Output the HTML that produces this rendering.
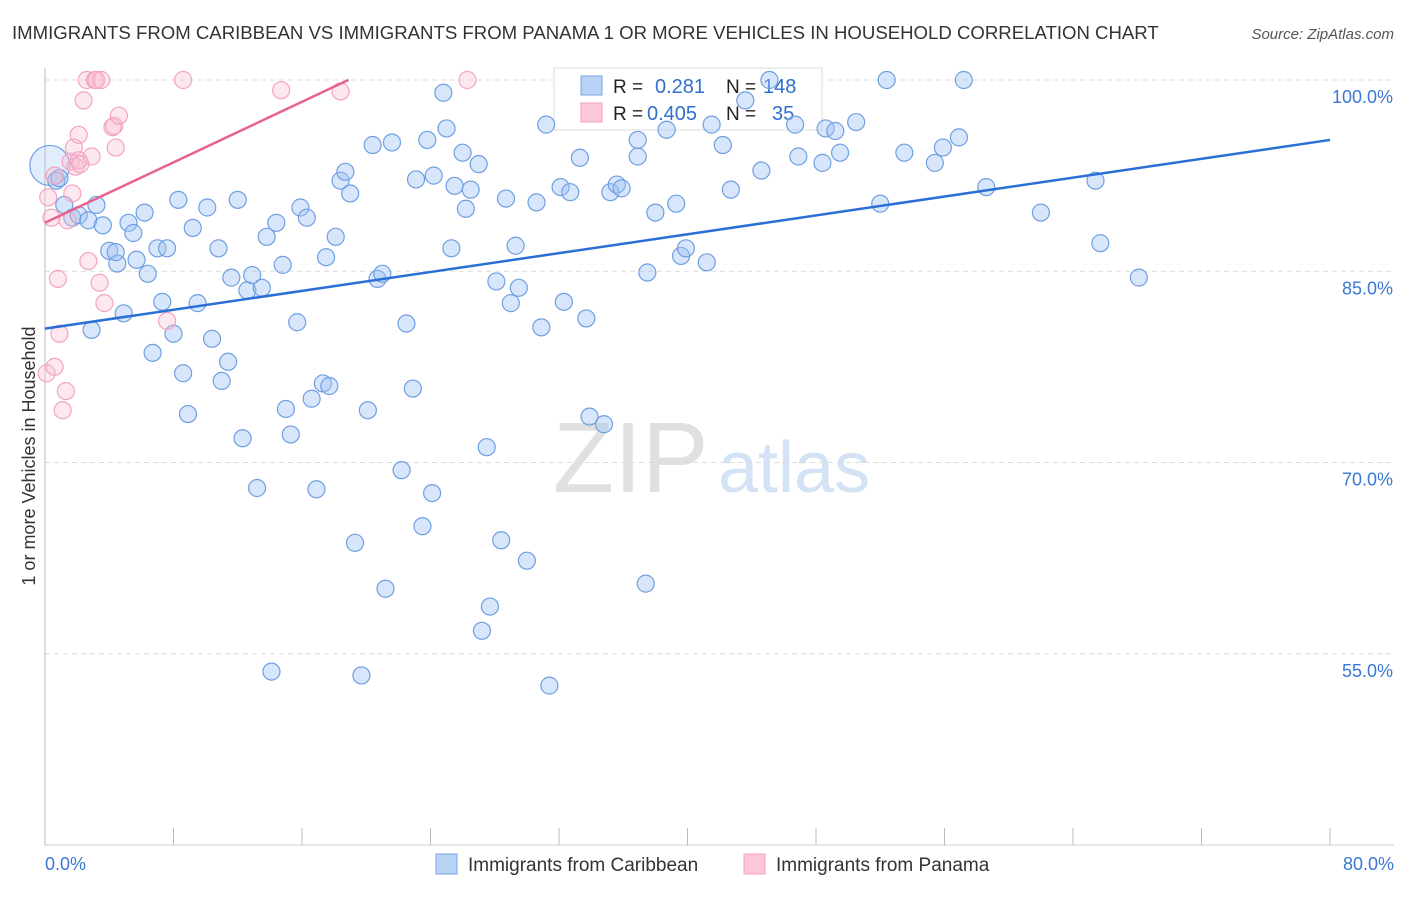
<!DOCTYPE html>
<html><head><meta charset="utf-8"><style>
body{margin:0;background:#fff;font-family:"Liberation Sans",sans-serif}
svg text{font-family:"Liberation Sans",sans-serif}
</style></head><body>
<svg width="1406" height="892" xmlns="http://www.w3.org/2000/svg">
<text x="12" y="39" font-size="18.6" fill="#333">IMMIGRANTS FROM CARIBBEAN VS IMMIGRANTS FROM PANAMA 1 OR MORE VEHICLES IN HOUSEHOLD CORRELATION CHART</text>
<text x="1394" y="39" font-size="15" fill="#555" font-style="italic" text-anchor="end">Source: ZipAtlas.com</text>
<text x="35" y="456" font-size="18" fill="#333" text-anchor="middle" transform="rotate(-90 35 456)">1 or more Vehicles in Household</text>
<text x="553" y="492" font-size="100" fill="#e0e0e0" font-family="Liberation Serif">ZIP</text>
<text x="718" y="492" font-size="72" fill="#d3e2f5">atlas</text>
<g id="grid"></g>
<g id="axes"></g>
<g>
<rect x="554" y="68" width="268" height="62" fill="#fff" stroke="#ddd"/>
<rect x="581" y="76" width="21" height="19" fill="#b8d2f5" stroke="#7aa6e6"/>
<rect x="581" y="103" width="21" height="19" fill="#fcc8d8" stroke="#f2a0bc"/>
<text x="613" y="93" font-size="19" fill="#222">R = </text><text x="655" y="93" font-size="20" fill="#2f6fd0">0.281</text>
<text x="726" y="93" font-size="19" fill="#222">N = </text><text x="763" y="93" font-size="20" fill="#2f6fd0">148</text>
<text x="613" y="120" font-size="19" fill="#222">R = </text><text x="647" y="120" font-size="20" fill="#2f6fd0">0.405</text>
<text x="726" y="120" font-size="19" fill="#222">N = </text><text x="772" y="120" font-size="20" fill="#2f6fd0">35</text>
</g>
<g id="pts"></g>
<g id="lines"></g>
<g>
<rect x="436" y="854" width="21" height="20" fill="#b8d2f5" stroke="#7aa6e6"/>
<text x="468" y="871" font-size="19" fill="#333">Immigrants from Caribbean</text>
<rect x="744" y="854" width="21" height="20" fill="#fcc8d8" stroke="#f2a0bc"/>
<text x="776" y="871" font-size="19" fill="#333">Immigrants from Panama</text>
</g>
</svg>
<script>
const yTicks=[100,85,70,55];
const yTickLabels=["100.0%","85.0%","70.0%","55.0%"];
const xTickLabels=["0.0%","80.0%"];
const blueX=[0.3,0.7,0.9,1.2,1.7,2.1,2.7,3.2,3.6,2.9,4.0,4.5,4.4,4.9,5.2,5.5,5.7,6.2,6.4,6.7,7.0,7.3,7.6,8.0,8.3,8.6,8.9,9.2,9.5,10.1,10.4,10.8,11.0,11.4,11.6,12.0,12.3,12.6,12.9,13.2,13.5,13.8,14.1,14.4,14.8,15.0,15.3,15.7,15.9,16.3,16.6,16.9,17.3,17.5,17.7,18.1,18.4,18.7,19.0,19.3,19.7,20.1,20.4,20.7,21.0,21.2,21.6,22.2,22.5,22.9,23.1,23.5,23.8,24.1,24.2,24.8,25.0,25.3,25.5,26.0,26.2,26.5,27.0,27.2,27.5,27.7,28.1,28.4,28.7,29.0,29.3,29.5,30.0,30.6,30.9,31.2,31.4,32.1,32.3,32.7,33.3,33.7,33.9,34.8,35.2,35.6,35.9,36.9,36.9,37.4,37.5,38.0,38.7,39.3,39.6,39.9,41.2,41.5,42.2,42.7,43.6,44.6,45.1,46.7,46.9,48.4,48.6,49.2,49.5,50.5,52.0,52.4,53.5,55.4,55.9,56.9,57.2,58.6,62.0,65.4,65.7,68.1];
const blueY=[93.3,92.1,92.3,90.2,89.2,89.4,89.0,90.2,88.6,80.4,86.6,85.6,86.5,81.7,88.8,88.0,85.9,89.6,84.8,78.6,86.8,82.6,86.8,80.1,90.6,77.0,73.8,88.4,82.5,90.0,79.7,86.8,76.4,77.9,84.5,90.6,71.9,83.5,84.7,68.0,83.7,87.7,53.6,88.8,85.5,74.2,72.2,81.0,90.0,89.2,75.0,67.9,76.2,86.1,76.0,87.7,92.1,92.8,91.1,63.7,53.3,74.1,94.9,84.4,84.8,60.1,95.1,69.4,80.9,75.8,92.2,65.0,95.3,67.6,92.5,99.0,96.2,86.8,91.7,94.3,89.9,91.4,93.4,56.8,71.2,58.7,84.2,63.9,90.7,82.5,87.0,83.7,62.3,90.4,80.6,96.5,52.5,91.6,82.6,91.2,93.9,81.3,73.6,73.0,91.2,91.8,91.5,94.0,95.3,60.5,84.9,89.6,96.1,90.3,86.2,86.8,85.7,96.5,94.9,91.4,98.4,92.9,100,96.5,94.0,93.5,96.2,96.0,94.3,96.7,90.3,100,94.3,93.5,94.7,95.5,100,91.6,89.6,92.1,87.2,84.5];
const pinkX=[0.1,0.4,0.6,0.8,0.9,1.1,1.3,1.4,1.6,1.7,1.8,1.9,2.1,2.2,2.4,2.6,2.7,2.9,3.1,3.2,3.4,3.5,3.7,4.2,4.3,4.4,4.6,7.6,8.6,14.7,18.4,26.3,0.2,2.1,0.6];
const pinkY=[77.0,89.2,77.5,84.4,80.1,74.1,75.6,89.0,93.6,91.1,94.7,93.2,93.7,93.4,98.4,100,85.8,94.0,100,100,84.1,100,82.5,96.3,96.4,94.7,97.2,81.1,100,99.2,99.1,100,90.8,95.7,92.5];
const blueTrend=[80.5,0.185]; // intercept, slope
const pinkTrend=[88.8,0.593];
const pinkTrendEnd=18.9;

const X0=45,X1=1330,Y0=80,Y1=845;
const sx=v=>X0+(X1-X0)*v/80;
const sy=v=>Y0+(100-v)*(Y1-Y0)/60;
const NS="http://www.w3.org/2000/svg";
function mk(t,a,p){const e=document.createElementNS(NS,t);for(const k in a)e.setAttribute(k,a[k]);p.appendChild(e);return e;}
const grid=document.getElementById('grid'),axes=document.getElementById('axes'),pts=document.getElementById('pts'),lines=document.getElementById('lines');
yTicks.forEach((t,i)=>{
 const l=mk('line',{x1:X0,x2:1394,y1:sy(t),y2:sy(t),stroke:'#dcdcdc','stroke-dasharray':'5,4'},grid);
 
 
 const tx=mk('text',{x:1393,y:sy(t)+23,'font-size':18,fill:'#3a78d4','text-anchor':'end'},axes);
 tx.textContent=yTickLabels[i];
 
 
});
const ya=mk('line',{x1:X0,x2:X0,y1:68,y2:Y1,stroke:'#bbb'},axes);


const xa=mk('line',{x1:X0,x2:1394,y1:Y1,y2:Y1,stroke:'#ccc'},axes);


for(let i=0;i<=10;i++){
 const tk=mk('line',{x1:sx(i*8),x2:sx(i*8),y1:828,y2:Y1,stroke:'#bbb'},axes);
 
 
}
[[0,'start',45],[80,'end',1394]].forEach((d,i)=>{
 const t=mk('text',{x:d[2],y:870,'font-size':18,fill:'#3a78d4','text-anchor':d[1]},axes);
 t.textContent=xTickLabels[i];
 
 
});
blueX.forEach((x,i)=>{
 const c=mk('circle',{cx:sx(x),cy:sy(blueY[i]),r:i==0?20:8.5,fill:i==0?'rgba(160,196,242,0.3)':'rgba(160,196,242,0.42)',stroke:'#6f9fe2','stroke-width':1.2},pts);
 
 
});
pinkX.forEach((x,i)=>{
 const c=mk('circle',{cx:sx(x),cy:sy(pinkY[i]),r:8.5,fill:'rgba(250,190,208,0.35)',stroke:'#f2a4c0','stroke-width':1.2},pts);
 
 
});
const bl=mk('line',{x1:sx(0),y1:sy(blueTrend[0]),x2:sx(80),y2:sy(blueTrend[0]+80*blueTrend[1]),stroke:'#2a6fd6','stroke-width':2.5},lines);


const pl=mk('line',{x1:sx(0),y1:sy(pinkTrend[0]),x2:sx(pinkTrendEnd),y2:sy(pinkTrend[0]+pinkTrendEnd*pinkTrend[1]),stroke:'#e8628f','stroke-width':2.5},lines);


</script>
</body></html>
